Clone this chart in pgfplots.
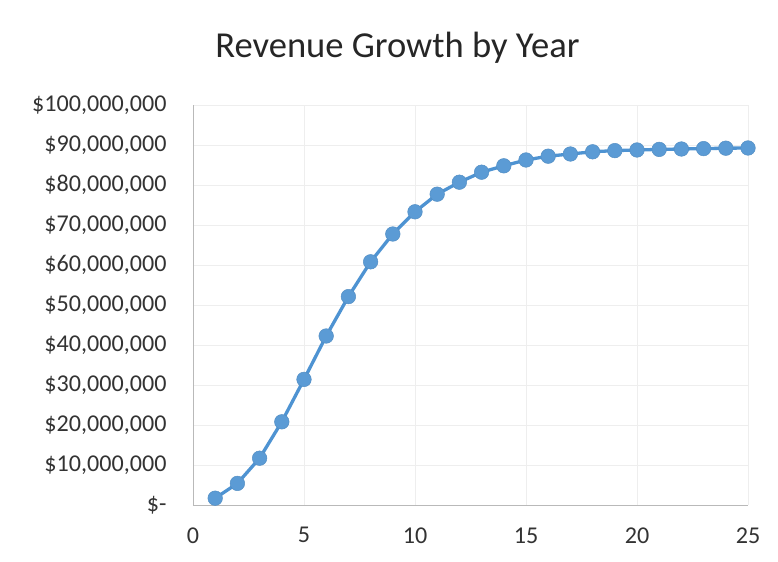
\documentclass[border=0pt]{standalone}
\usepackage{pgfplots}
\pgfplotsset{compat=1.18}
\usepackage{fontspec}
\setmainfont{Carlito}
\definecolor{ser}{HTML}{5B9BD5}
\definecolor{serline}{HTML}{4E93D2}
\begin{document}
\begin{tikzpicture}
\begin{axis}[
  at={(0,0)}, anchor=south west,
  scale only axis, width=555bp, height=400bp,
  xmin=0, xmax=25, ymin=0, ymax=100000000,
  xtick={0,5,10,15,20,25},
  ytick={0,10000000,20000000,30000000,40000000,50000000,60000000,70000000,80000000,90000000,100000000},
  yticklabels={{\$-\hspace{0.45em}},{\$10,000,000},{\$20,000,000},{\$30,000,000},{\$40,000,000},{\$50,000,000},{\$60,000,000},{\$70,000,000},{\$80,000,000},{\$90,000,000},{\$100,000,000}},
  /pgf/number format/assume math mode=true,
  scaled y ticks=false,
  axis x line*=bottom, axis y line*=left,
  axis line style={draw=gray!55, line width=0.9bp},
  tick style={draw=none},
  grid=major, major grid style={draw=gray!13, line width=0.7bp},
  ticklabel style={font=\fontsize{24.2}{28}\selectfont, text=black!80},
  yticklabel style={xshift=-23bp},
  xticklabel style={yshift=-19bp},
  title={Revenue Growth by Year},
  title style={font=\fontsize{36.7}{44}\selectfont, text=black!85, at={(axis description cs:0.5,1)}, anchor=base, xshift=-73bp, yshift=42bp},
  clip=false,
]
\addplot[color=serline, line width=3.3bp, mark=*, mark size=7.3bp,
  mark options={fill=ser, draw=ser!92!black, line width=0.5bp}]
coordinates {
(1,1700000) (2,5400000) (3,11700000) (4,20800000) (5,31400000)
(6,42250000) (7,52100000) (8,60800000) (9,67750000) (10,73300000)
(11,77700000) (12,80700000) (13,83200000) (14,84800000) (15,86250000)
(16,87200000) (17,87750000) (18,88300000) (19,88600000) (20,88750000)
(21,88900000) (22,89000000) (23,89100000) (24,89200000) (25,89250000)
};
\end{axis}
\pgfresetboundingbox
\path[use as bounding box] (-193bp,-57bp) rectangle (585bp,505bp);
\end{tikzpicture}
\end{document}
